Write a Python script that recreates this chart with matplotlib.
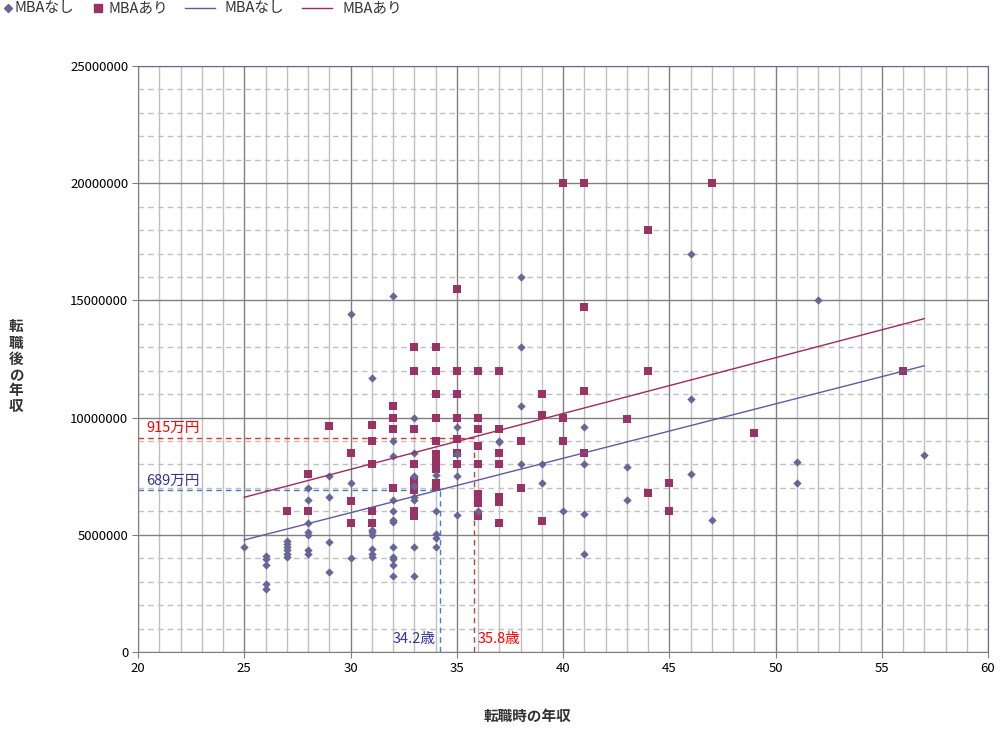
import matplotlib
matplotlib.use("Agg")
import matplotlib.pyplot as plt
from matplotlib.lines import Line2D
from matplotlib.ticker import MultipleLocator, FuncFormatter

plt.rcParams["font.family"] = ["Noto Sans CJK JP", "DejaVu Sans"]

# ─────────────────────────────────────────
#  DATA  (age at job change, annual income after change in yen)
# ─────────────────────────────────────────
nomba_age = [25,
             26, 26, 26, 26, 26,
             27, 27, 27, 27, 27, 27,
             28, 28, 28, 28, 28, 28, 28,
             29, 29, 29, 29,
             30, 30, 30,
             31, 31, 31, 31, 31, 31, 31,
             32, 32, 32, 32, 32, 32, 32, 32, 32, 32, 32, 32,
             33, 33, 33, 33, 33, 33, 33, 33,
             34, 34, 34, 34, 34,
             35, 35, 35, 35,
             36,
             37, 37,
             38, 38, 38, 38,
             39, 39,
             40,
             41, 41, 41, 41,
             43, 43,
             46, 46, 46,
             47,
             51, 51,
             52,
             57]
nomba_income = [4500000,
                4100000, 3950000, 3700000, 2900000, 2700000,
                4750000, 4600000, 4500000, 4350000, 4200000, 4050000,
                7000000, 6500000, 5500000, 5100000, 5000000, 4350000, 4200000,
                7500000, 6600000, 4700000, 3400000,
                14400000, 7200000, 4000000,
                11700000, 5200000, 5100000, 5000000, 4400000, 4200000, 4050000,
                15200000, 9000000, 8350000, 6500000, 6000000, 5650000, 5550000,
                4500000, 4050000, 3950000, 3700000, 3250000,
                10000000, 8500000, 7500000, 7100000, 6600000, 6500000, 4500000, 3250000,
                7550000, 6000000, 5050000, 4850000, 4500000,
                9600000, 8450000, 7500000, 5850000,
                6000000,
                9000000, 8950000,
                16000000, 13000000, 10500000, 8000000,
                8000000, 7200000,
                6000000,
                9600000, 8000000, 5900000, 4200000,
                7900000, 6500000,
                17000000, 10800000, 7600000,
                5650000,
                8100000, 7200000,
                15000000,
                8400000]

mba_age = [27,
           28, 28,
           29,
           30, 30, 30,
           31, 31, 31, 31, 31,
           32, 32, 32, 32,
           33, 33, 33, 33, 33, 33, 33, 33, 33,
           34, 34, 34, 34, 34, 34, 34, 34, 34, 34, 34,
           35, 35, 35, 35, 35, 35, 35,
           36, 36, 36, 36, 36, 36, 36, 36, 36,
           37, 37, 37, 37, 37, 37, 37,
           38, 38,
           39, 39, 39,
           40, 40, 40,
           41, 41, 41, 41,
           43,
           44, 44, 44,
           45, 45,
           47,
           49,
           56]
mba_income = [6000000,
              7600000, 6000000,
              9650000,
              8500000, 6450000, 5500000,
              9700000, 9000000, 8000000, 6000000, 5500000,
              10500000, 10000000, 9500000, 7000000,
              13000000, 12000000, 9500000, 8000000, 7300000, 7050000, 6900000, 6000000, 5800000,
              13000000, 12000000, 11000000, 10000000, 9000000, 8450000, 8100000,
              7950000, 7800000, 7200000, 7050000,
              15500000, 12000000, 11000000, 10000000, 9100000, 8500000, 8000000,
              12000000, 10000000, 9500000, 8800000, 8000000, 6750000, 6550000, 6350000, 5800000,
              12000000, 9500000, 8500000, 8000000, 6600000, 6400000, 5500000,
              9000000, 7000000,
              11000000, 10100000, 5600000,
              20000000, 10000000, 9000000,
              20000000, 14700000, 11150000, 8500000,
              9950000,
              18000000, 12000000, 6800000,
              7200000, 6000000,
              20000000,
              9350000,
              12000000]

# trend lines (end points)
trend_age    = [25, 57]
trend_nomba  = [4780000, 12210000]
trend_mba    = [6600000, 14220000]

# average markers
avg_age_nomba,   avg_inc_nomba = 34.2, 6890000
avg_age_mba,     avg_inc_mba   = 35.8, 9150000
avg_labels = ["689万円", "915万円", "34.2歳", "35.8歳"]

legend_labels = ["MBAなし", "MBAあり", "MBAなし", "MBAあり"]

# ─────────────────────────────────────────
#  STYLE
# ─────────────────────────────────────────
C_NOMBA   = "#666699"
C_MBA     = "#993366"
C_LNOMBA  = "#5c5ca0"
C_LMBA    = "#9e2a5e"
C_TXT_BL  = "#333399"
C_TXT_RD  = "#ff0000"
DASH      = (0, (4, 3))
W, H      = 1000, 733

fig = plt.figure(figsize=(10, 7.33), dpi=100)
ax = fig.add_axes([0.138, 0.1105, 0.850, 0.7995])

ax.set_xlim(20, 60)
ax.set_ylim(0, 25000000)

# grid
ax.xaxis.set_major_locator(MultipleLocator(5))
ax.xaxis.set_minor_locator(MultipleLocator(1))
ax.yaxis.set_major_locator(MultipleLocator(5000000))
ax.yaxis.set_minor_locator(MultipleLocator(1000000))
ax.grid(which="minor", axis="x", color="#c0c0c0", linewidth=1.0, linestyle="-")
ax.grid(which="minor", axis="y", color="#c0c0c0", linewidth=1.0, linestyle=DASH)
ax.grid(which="major", color="#808080", linewidth=1.0, linestyle="-")
ax.set_axisbelow(True)

for side in ["left", "bottom"]:
    ax.spines[side].set_color("#808080")
ax.spines["top"].set_color(C_NOMBA)
ax.spines["right"].set_color(C_NOMBA)

ax.tick_params(which="major", length=4, color="#808080", labelsize=9.5, pad=3)
ax.tick_params(which="minor", length=0)
ax.yaxis.set_major_formatter(FuncFormatter(lambda v, p: f"{int(v)}"))

# average guides
ax.plot([20, avg_age_mba], [avg_inc_mba, avg_inc_mba], color="#e03030",
        linewidth=1.0, linestyle=DASH, zorder=2)
ax.plot([avg_age_mba, avg_age_mba], [0, avg_inc_mba], color="#c04040",
        linewidth=1.0, linestyle=DASH, zorder=2)
ax.plot([20, avg_age_nomba], [avg_inc_nomba, avg_inc_nomba], color="#4a78c0",
        linewidth=1.0, linestyle=DASH, zorder=2)
ax.plot([avg_age_nomba, avg_age_nomba], [0, avg_inc_nomba], color="#3a80e0",
        linewidth=1.0, linestyle=DASH, zorder=2)

# scatter
ax.scatter(nomba_age, nomba_income, marker="D", s=18, color=C_NOMBA,
           linewidths=0, zorder=4)
ax.scatter(mba_age, mba_income, marker="s", s=30, color=C_MBA,
           linewidths=0, zorder=3)

# trend lines
ax.plot(trend_age, trend_nomba, color=C_LNOMBA, linewidth=1.0, zorder=5)
ax.plot(trend_age, trend_mba, color=C_LMBA, linewidth=1.0, zorder=5)

# annotations
ax.text(20.4, avg_inc_nomba + 130000, avg_labels[0], color=C_TXT_BL,
        fontsize=10.5, va="bottom", ha="left")
ax.text(20.4, avg_inc_mba + 130000, avg_labels[1], color=C_TXT_RD,
        fontsize=10.5, va="bottom", ha="left")
ax.text(avg_age_nomba - 0.2, 250000, avg_labels[2], color=C_TXT_BL,
        fontsize=10.5, va="bottom", ha="right")
ax.text(avg_age_mba + 0.2, 250000, avg_labels[3], color=C_TXT_RD,
        fontsize=10.5, va="bottom", ha="left")

# axis labels
fig.text(0.527, 0.012, "転職時の年収", fontsize=10.5, fontweight="bold",
         ha="center", va="bottom", color="#333333")
fig.text(0.016, 0.50, "\n".join("転職後の年収"), fontsize=10.5, fontweight="bold",
         ha="center", va="center", linespacing=1.0, color="#333333")

# legend, laid out by hand along the top edge (pixel positions)
ly = 1 - 8 / H
fig.add_artist(Line2D([8 / W], [ly], marker="D", markersize=4, color=C_NOMBA,
                      linestyle="none", transform=fig.transFigure))
fig.add_artist(Line2D([98 / W], [ly], marker="s", markersize=5.5, color=C_MBA,
                      linestyle="none", transform=fig.transFigure))
fig.add_artist(Line2D([185 / W, 215 / W], [ly, ly], color=C_LNOMBA,
                      linewidth=1.0, transform=fig.transFigure))
fig.add_artist(Line2D([302 / W, 332 / W], [ly, ly], color=C_LMBA,
                      linewidth=1.0, transform=fig.transFigure))
for px, lab in zip([15, 108, 225, 342], legend_labels):
    fig.text(px / W, ly, lab, fontsize=10.5, color="#333333",
             ha="left", va="center")

fig.savefig("out.png", dpi=100)
